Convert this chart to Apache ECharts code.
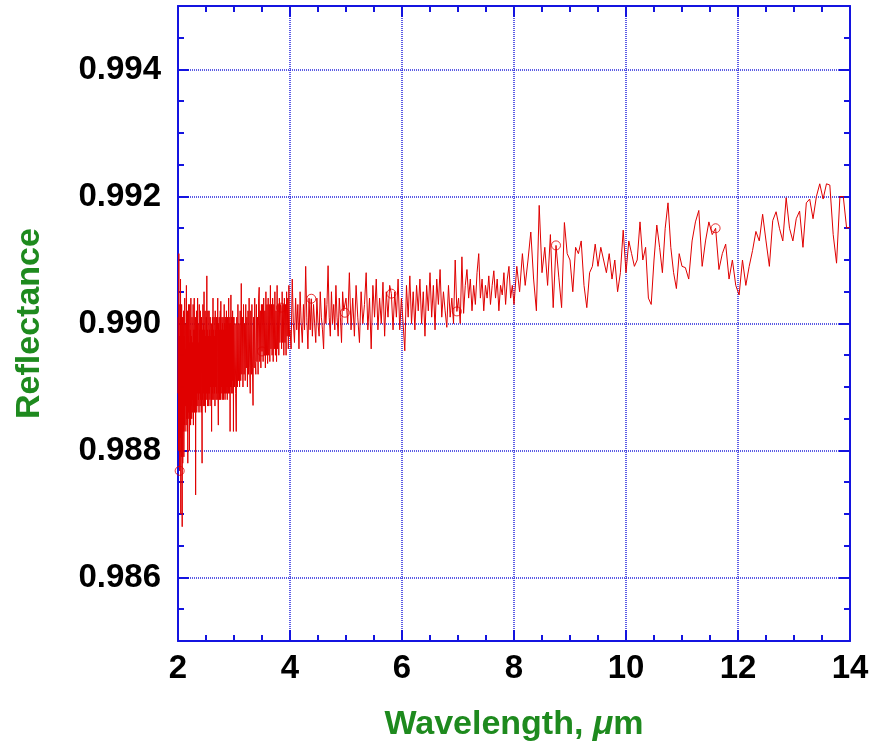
<!DOCTYPE html>
<html>
<head>
<meta charset="utf-8">
<script src="https://cdn.jsdelivr.net/npm/echarts@6/dist/echarts.min.js"></script>
<style>
  html, body { margin: 0; padding: 0; background: #ffffff; }
  #chart { width: 876px; height: 755px; }
</style>
</head>
<body>
<div id="chart"></div>
<script>
// Reflectance spectrum, stored as wavelength segments on a regular grid:
// each segment has a start wavelength (µm), a step (µm) and its reflectance values.
const seg1Start = 2.000, seg1Step = 0.005;
const seg1 = [
  0.98890, 0.99010, 0.98800, 0.99110, 0.98850, 0.98980, 0.98768, 0.99030, 0.98820, 0.99070,
  0.98700, 0.98990, 0.98790, 0.99030, 0.98840, 0.98680, 0.99010, 0.98780, 0.98960, 0.98830,
  0.99020, 0.98790, 0.98980, 0.98840, 0.99040, 0.98830, 0.99000, 0.98870, 0.98960, 0.98840,
  0.99060, 0.98850, 0.99000, 0.98830, 0.99020, 0.98780, 0.98980, 0.98860, 0.99030, 0.98850,
  0.98970, 0.98800, 0.99030, 0.98860, 0.98990, 0.98840, 0.99040, 0.98870, 0.98980, 0.98850,
  0.99010, 0.98860, 0.98970, 0.98880, 0.99030, 0.98840, 0.98990, 0.98870, 0.99040, 0.98860,
  0.98990, 0.98870, 0.99010, 0.98730, 0.98980, 0.98870, 0.99020, 0.98860, 0.98990, 0.98890,
  0.99040, 0.98870, 0.99000, 0.98880, 0.98970, 0.98860, 0.99030, 0.98890, 0.98990, 0.98870,
  0.99020, 0.98880, 0.98990, 0.98860, 0.99010, 0.98890, 0.98780, 0.98990, 0.98880, 0.99030,
  0.98870, 0.99000, 0.98890, 0.99050, 0.98870, 0.98990, 0.98880, 0.99020, 0.98860, 0.98980,
  0.98880, 0.99010, 0.98890, 0.99075, 0.98880, 0.98990, 0.98870, 0.99020, 0.98890, 0.98980,
  0.98870, 0.99020, 0.98890, 0.98990, 0.98880, 0.99010, 0.98900, 0.98980, 0.98870, 0.99000,
  0.98830, 0.98990, 0.98890, 0.99010, 0.98880, 0.99040, 0.98900, 0.98990, 0.98880, 0.99010,
  0.98890, 0.98980, 0.98870, 0.99020, 0.98900, 0.98990, 0.98880, 0.99010, 0.98890, 0.99000,
  0.98880, 0.98990, 0.99040, 0.98890, 0.98840, 0.99000, 0.98890, 0.99010, 0.98880, 0.98990,
  0.98900, 0.99020, 0.98880, 0.99035, 0.98890, 0.98990, 0.98900, 0.99010, 0.98880, 0.99000,
  0.98890, 0.99010, 0.98880, 0.98990, 0.98900, 0.99030, 0.98890, 0.99000, 0.98880, 0.99010,
  0.98890, 0.98990, 0.98900, 0.99020, 0.98890, 0.99000, 0.98880, 0.99010, 0.98900, 0.98990,
  0.98890, 0.99040, 0.98900, 0.99000, 0.98890, 0.99010, 0.98830, 0.99000, 0.98900, 0.99045,
  0.98900, 0.99010, 0.98890, 0.99000, 0.98910, 0.99020, 0.98890, 0.99010, 0.98830, 0.99000
];

const seg2Start = 3.00, seg2Step = 0.01;
const seg2 = [
  0.99010, 0.98900, 0.99000, 0.98890, 0.98830, 0.99010, 0.98900, 0.99030, 0.98910, 0.99000,
  0.98900, 0.99020, 0.98910, 0.99063, 0.98920, 0.99010, 0.98900, 0.99030, 0.98920, 0.99000,
  0.98910, 0.99030, 0.98930, 0.99010, 0.98900, 0.99020, 0.98920, 0.99040, 0.98930, 0.98890,
  0.99020, 0.98920, 0.99030, 0.98930, 0.98871, 0.99010, 0.98930, 0.99040, 0.98940, 0.98920,
  0.99030, 0.98940, 0.99010, 0.98920, 0.99040, 0.99057, 0.98940, 0.99020, 0.98930, 0.99030,
  0.98956, 0.99030, 0.98940, 0.99040, 0.98950, 0.99020, 0.98930, 0.99050, 0.98950, 0.99030,
  0.98937, 0.99040, 0.98950, 0.99030, 0.98940, 0.99060, 0.98960, 0.99030, 0.98950, 0.99040,
  0.98940, 0.99030, 0.98960, 0.99050, 0.98950, 0.99020, 0.98940, 0.99060, 0.98960, 0.99030,
  0.98950, 0.99040, 0.98970, 0.99030, 0.99025, 0.98960, 0.99050, 0.98970, 0.99030, 0.98950,
  0.99040, 0.98970, 0.99030, 0.98950, 0.99050, 0.98980, 0.99040, 0.98960, 0.99060, 0.98980
];

const seg3Start = 4.00, seg3Step = 0.02;
const seg3 = [
  0.98990,
  0.98960, 0.99070, 0.99000, 0.98970, 0.99040, 0.98990, 0.99030, 0.98960, 0.99050, 0.99000,
  0.98970, 0.99030, 0.98990, 0.99090, 0.99010, 0.98960, 0.99040, 0.98990, 0.99039, 0.98980,
  0.99030, 0.99000, 0.98970, 0.99040, 0.99000, 0.98980, 0.99050, 0.99010, 0.98990, 0.98960,
  0.99040, 0.99000, 0.99030, 0.99091, 0.99010, 0.98980, 0.99050, 0.99000, 0.99030, 0.98990,
  0.99060, 0.99010, 0.98980, 0.99040, 0.99010, 0.98970, 0.99050, 0.99020, 0.99017, 0.99040
];

const seg4Start = 5.03, seg4Step = 0.03;
const seg4 = [
  0.99000, 0.99080, 0.98990, 0.99040, 0.98980, 0.99060, 0.99010, 0.98970, 0.99050, 0.99000,
  0.99030, 0.99080, 0.98990, 0.99040, 0.98960, 0.99060, 0.99010, 0.99070, 0.98990, 0.99040,
  0.99000, 0.99065, 0.98980, 0.99050, 0.99010, 0.99060, 0.99047, 0.98990, 0.99050, 0.99010,
  0.99070, 0.98990, 0.99040, 0.99000, 0.98957, 0.99060, 0.99010, 0.99075, 0.99000, 0.99050,
  0.98990, 0.99060, 0.99020, 0.99070, 0.99000, 0.99050, 0.98980, 0.99060, 0.99020, 0.99080,
  0.99010, 0.99060, 0.98990, 0.99070, 0.99030, 0.99085, 0.99010, 0.99050, 0.99020, 0.98994,
  0.99060, 0.99010, 0.99040, 0.99000, 0.99100, 0.99019, 0.99040, 0.99000, 0.99105, 0.99016,
  0.99060, 0.99085, 0.99040, 0.99070, 0.99020, 0.99060, 0.99030, 0.99080, 0.99110, 0.99040,
  0.99070, 0.99020, 0.99060, 0.99040, 0.99075, 0.99030, 0.99060, 0.99083, 0.99040, 0.99070,
  0.99020, 0.99060, 0.99045, 0.99080, 0.99030, 0.99070, 0.99090, 0.99040, 0.99060, 0.99030
];

const seg5Start = 8.05, seg5Step = 0.05;
const seg5 = [
  0.99090, 0.99050, 0.99110, 0.99060, 0.99100, 0.99144, 0.99070, 0.99020, 0.99186, 0.99080,
  0.99120, 0.99060, 0.99140, 0.99025, 0.99123, 0.99073, 0.99025, 0.99159, 0.99110, 0.99100,
  0.99050, 0.99120, 0.99110, 0.99130, 0.99060, 0.99025, 0.99080, 0.99090, 0.99125, 0.99090,
  0.99120, 0.99100, 0.99080, 0.99110, 0.99070, 0.99100, 0.99050, 0.99080, 0.99147, 0.99080,
  0.99130, 0.99110, 0.99090, 0.99100, 0.99160, 0.99100, 0.99120, 0.99040, 0.99030, 0.99100,
  0.99155, 0.99120, 0.99080, 0.99150, 0.99190, 0.99120, 0.99080, 0.99055, 0.99110, 0.99090
];

const seg6Start = 11.06, seg6Step = 0.06;
const seg6 = [
  0.99088, 0.99070, 0.99130, 0.99160, 0.99178, 0.99090, 0.99130, 0.99160, 0.99140, 0.99150,
  0.99085, 0.99110, 0.99125, 0.99070, 0.99100, 0.99060, 0.99045, 0.99100, 0.99060, 0.99090,
  0.99115, 0.99145, 0.99130, 0.99172, 0.99130, 0.99090, 0.99162, 0.99176, 0.99150, 0.99130,
  0.99198, 0.99150, 0.99130, 0.99165, 0.99177, 0.99120, 0.99190, 0.99196, 0.99165, 0.99200,
  0.99220, 0.99196, 0.99220, 0.99218, 0.99140, 0.99095, 0.99200, 0.99200, 0.99150, 0.99152
];

// Wavelengths (µm) where the spectrum carries an open-circle marker
const markerWavelengths = [2.03, 3.50, 3.84, 4.38, 4.98, 5.81, 6.98, 8.75, 11.60];

// Axis ranges
const xMin = 2, xMax = 14, xStep = 2;
const yMin = 0.985, yMax = 0.995;

const AXIS_BLUE = '#1414e0';
const GRID_BLUE = '#2626dc';
const LINE_RED = '#e00000';
const NAME_GREEN = '#1e8a1e';
const FONT = '"Liberation Sans", Arial, Helvetica, sans-serif';

function expand(start, step, values) {
  return values.map((v, i) => [+(start + i * step).toFixed(3), v]);
}

const spectrum = [].concat(
  expand(seg1Start, seg1Step, seg1),
  expand(seg2Start, seg2Step, seg2),
  expand(seg3Start, seg3Step, seg3),
  expand(seg4Start, seg4Step, seg4),
  expand(seg5Start, seg5Step, seg5),
  expand(seg6Start, seg6Step, seg6)
);

// Marker points sit on the spectrum sample nearest each marker wavelength
const markers = markerWavelengths.map(w =>
  spectrum.reduce((best, p) => Math.abs(p[0] - w) < Math.abs(best[0] - w) ? p : best)
);

function frameAxis(extra) {
  return Object.assign({
    type: 'value',
    axisLine: { show: true, onZero: false, lineStyle: { color: AXIS_BLUE, width: 2 } },
    axisTick: { show: true, inside: true, length: 11, lineStyle: { color: AXIS_BLUE, width: 2 } },
    minorTick: { show: true, splitNumber: 4, length: 6, lineStyle: { color: AXIS_BLUE, width: 2 } },
    splitLine: { show: false },
    axisLabel: { show: false }
  }, extra);
}

const gridLineStyle = { color: GRID_BLUE, width: 1.5, type: [1, 1] };

const chart = echarts.init(document.getElementById('chart'), null, { renderer: 'canvas' });

chart.setOption({
  animation: false,
  backgroundColor: '#ffffff',
  grid: { left: 178, right: 26, top: 6, bottom: 114, containLabel: false, outerBoundsMode: 'none' },
  xAxis: [
    frameAxis({
      position: 'bottom', min: xMin, max: xMax, interval: xStep,
      splitLine: { show: true, lineStyle: gridLineStyle },
      axisLabel: {
        show: true, color: '#000000', fontSize: 33, fontWeight: 'bold', fontFamily: FONT, margin: 11
      },
      name: 'Wavelength, {i|μ}m',
      nameLocation: 'middle',
      nameGap: 67,
      nameTextStyle: {
        color: NAME_GREEN, fontSize: 34, fontWeight: 'bold', fontFamily: FONT,
        rich: { i: { color: NAME_GREEN, fontSize: 34, fontWeight: 'bold', fontFamily: FONT, fontStyle: 'italic' } }
      }
    }),
    frameAxis({ position: 'top', min: xMin, max: xMax, interval: xStep })
  ],
  yAxis: [
    frameAxis({
      position: 'left', min: yMin, max: yMax, splitNumber: 5,
      splitLine: { show: true, lineStyle: gridLineStyle },
      axisLabel: {
        show: true, color: '#000000', fontSize: 33, fontWeight: 'bold', fontFamily: FONT, margin: 17,
        showMinLabel: false, showMaxLabel: false,
        formatter: v => v.toFixed(3)
      },
      name: 'Reflectance',
      nameLocation: 'middle',
      nameGap: 131,
      nameTextStyle: { color: NAME_GREEN, fontSize: 34, fontWeight: 'bold', fontFamily: FONT }
    }),
    frameAxis({ position: 'right', min: yMin, max: yMax, splitNumber: 5 })
  ],
  series: [
    {
      name: 'Reflectance',
      type: 'line',
      data: spectrum,
      showSymbol: false,
      symbol: 'none',
      sampling: null,
      lineStyle: { color: LINE_RED, width: 1 },
      z: 3
    },
    {
      name: 'Markers',
      type: 'scatter',
      data: markers,
      symbol: 'circle',
      symbolSize: 9,
      itemStyle: { color: 'rgba(255,255,255,0)', borderColor: LINE_RED, borderWidth: 1 },
      z: 4
    }
  ]
});
</script>
</body>
</html>
